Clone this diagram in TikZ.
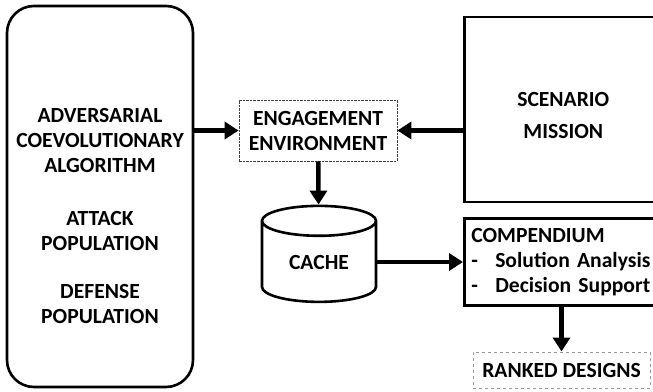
\documentclass[tikz,border=0pt]{standalone}
\usepackage{fontspec}
\setmainfont{Carlito}
\usetikzlibrary{shapes.geometric,arrows.meta,positioning}
\newcommand\diagfont{\fontsize{21.6}{25}\selectfont\bfseries}

\begin{document}
\begin{tikzpicture}[x=1pt, y=-1pt,
  blockbox/.style={draw, line width=2.6pt, align=center, font=\diagfont, inner sep=0pt},
  arr/.style={-{Triangle[length=14pt,width=17pt]}, line width=4.5pt},
  font=\diagfont
]
\clip (0,0) rectangle (653,391);

\node[blockbox, rounded corners=27pt, minimum width=186pt, minimum height=381pt] (algo) at (100,196.5)
  {\mbox{}\\[28pt]ADVERSARIAL\\COEVOLUTIONARY\\ALGORITHM\\[28pt]ATTACK\\POPULATION\\[23pt]DEFENSE\\POPULATION};
\node[blockbox, draw=black!75, densely dotted, line width=0.8pt, minimum width=158pt, minimum height=61pt] (engage) at (318,130.5)
  {ENGAGEMENT\\ENVIRONMENT};
\node[blockbox, anchor=west, minimum width=198pt, minimum height=185pt] (scenario) at (463,109.5)
  {\mbox{}\\[1pt]SCENARIO\\[7pt]MISSION};
\node[cylinder, shape border rotate=90, draw, line width=2.6pt, aspect=0.5, minimum width=114pt,
  minimum height=96pt, inner sep=0pt] (cache) at (319,262) {CACHE};
\node[blockbox, anchor=west, align=left, text width=190pt, minimum height=87pt, inner xsep=7pt] (compendium) at (463,262)
  {COMPENDIUM\\\makebox[24pt][l]{-}Solution Analysis\\\makebox[24pt][l]{-}Decision Support};
\node[draw=black!40, dashed, line width=1pt, minimum width=177pt, minimum height=36pt, inner sep=0pt] (ranked) at (561.5,370)
  {RANKED DESIGNS};

\draw[arr] (algo.east |- engage.west) -- (engage.west);
\draw[arr] (scenario.west |- engage.east) -- (engage.east);
\draw[arr] (engage) -- (cache);
\draw[arr] (cache) -- (compendium);
\draw[arr] (compendium.south -| ranked.north) -- (ranked);

\end{tikzpicture}
\end{document}
